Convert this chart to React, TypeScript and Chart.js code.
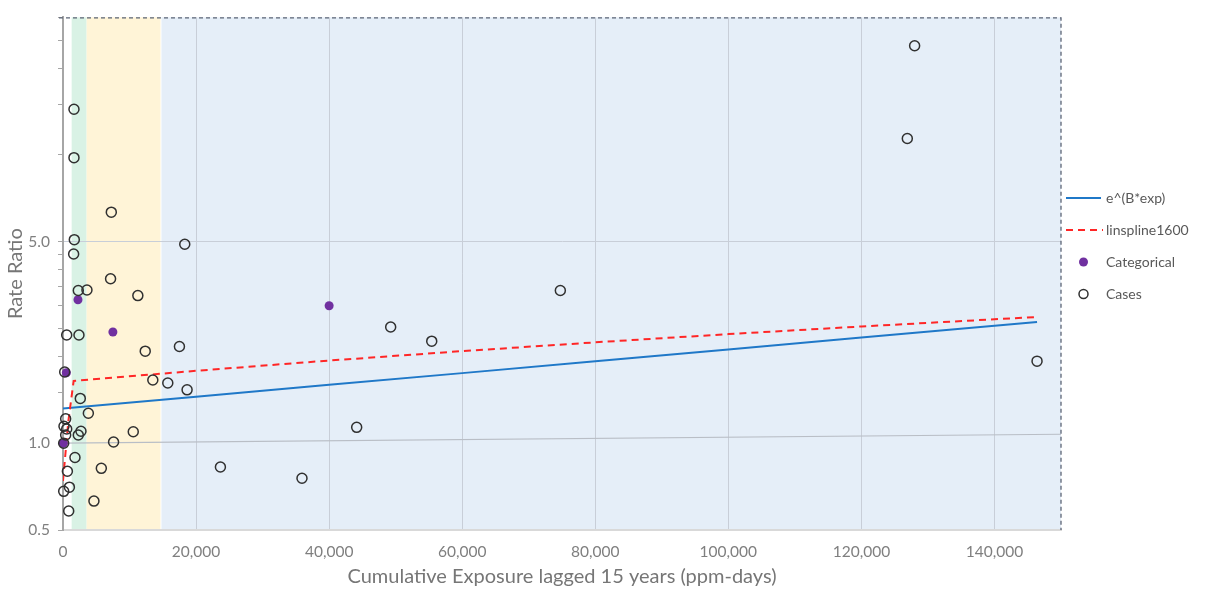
import React, { useEffect, useRef } from 'react';
import { Chart, registerables } from 'chart.js';

Chart.register(...registerables);

// ---------- data ----------
const casesX = [128000, 126900, 1650, 1650, 7260, 1700, 1600, 18300, 7150, 2300, 3600, 11250, 555, 2400, 12360, 17500, 255, 13500, 15750, 18650, 2600, 3810, 400, 150, 555, 400, 2700, 2300, 7600, 10560, 100, 1800, 660, 5760, 105, 960, 4650, 860, 23660, 35920, 44140, 49250, 55420, 74750, 146400];
const casesY = [23.9, 11.4, 14.4, 9.78, 6.33, 5.08, 4.53, 4.9, 3.72, 3.385, 3.4, 3.25, 2.373, 2.373, 2.086, 2.165, 1.766, 1.657, 1.618, 1.531, 1.43, 1.27, 1.215, 1.144, 1.12, 1.068, 1.1, 1.068, 1.01, 1.096, 1.0, 0.892, 0.799, 0.818, 0.681, 0.704, 0.63, 0.582, 0.827, 0.756, 1.135, 2.53, 2.259, 3.385, 1.926];

const categoricalX = [50, 500, 2250, 7500, 40000];
const categoricalY = [1.0, 1.755, 3.143, 2.431, 2.997];

const expLineX = [0, 20000, 40000, 60000, 80000, 100000, 120000, 146400];
const expLineY = [1.319, 1.45, 1.595, 1.75, 1.925, 2.115, 2.325, 2.63];

const splineX = [0, 800, 1600, 20000, 40000, 60000, 80000, 100000, 120000, 146400];
const splineY = [0.74, 1.19, 1.644, 1.783, 1.935, 2.086, 2.238, 2.39, 2.54, 2.74];

const refLineX = [0, 150000];
const refLineY = [1.0, 1.074];

const xTicks = [0, 20000, 40000, 60000, 80000, 100000, 120000, 140000];
const yTicks = [0.5, 1, 1.5, 2, 2.5, 3, 3.5, 4, 4.5, 5, 10, 15, 20, 25, 30];
const yLabelled = [0.5, 1, 5];

const bandStarts = [1300, 3550, 14800];
const bandEnds = [3550, 14650, 150000];

const legendLabels = ['e^(B*exp)', 'linspline1600', 'Categorical', 'Cases'];

const xTitle = 'Cumulative Exposure lagged 15 years (ppm-days)';
const yTitle = 'Rate Ratio';

// ---------- styles ----------
const FONT = 'Lato, "Open Sans", sans-serif';
const bandColors = ['#D9F2E5', '#FFF4D7', '#E5EEF8'];
const gridColor = '#C8CED8';
const tickTextColor = '#7F7F7F';
const blue = '#1F78C8';
const red = '#FF2626';
const purple = '#7030A0';
const caseStroke = '#303030';

const pts = (xs: number[], ys: number[]) => xs.map((x, i) => ({ x, y: ys[i] }));

const bandsPlugin = {
  id: 'bands',
  beforeDraw(chart: any) {
    const { ctx, chartArea, scales } = chart;
    const x = scales.x;
    ctx.save();
    for (let i = 0; i < bandStarts.length; i++) {
      const x0 = x.getPixelForValue(bandStarts[i]);
      const x1 = x.getPixelForValue(bandEnds[i]);
      ctx.fillStyle = bandColors[i];
      ctx.fillRect(x0, chartArea.top, x1 - x0, chartArea.bottom - chartArea.top);
    }
    ctx.restore();
  },
};

const framePlugin = {
  id: 'frame',
  afterDraw(chart: any) {
    const { ctx, chartArea } = chart;
    ctx.save();
    ctx.strokeStyle = '#5B6475';
    ctx.lineWidth = 1.3;
    ctx.setLineDash([4, 3]);
    ctx.beginPath();
    ctx.moveTo(chartArea.left - 4, chartArea.top + 0.5);
    ctx.lineTo(chartArea.right, chartArea.top + 0.5);
    ctx.lineTo(chartArea.right, chartArea.bottom);
    ctx.stroke();
    ctx.restore();
  },
};

const legendPlugin = {
  id: 'customLegend',
  afterDraw(chart: any) {
    const { ctx, chartArea } = chart;
    const x0 = chartArea.right + 5;
    const x1 = x0 + 35;
    const cx = (x0 + x1) / 2;
    const tx = x1 + 5;
    const rows = [198, 230, 262, 294];
    ctx.save();
    ctx.strokeStyle = blue;
    ctx.lineWidth = 2;
    ctx.beginPath();
    ctx.moveTo(x0, rows[0]);
    ctx.lineTo(x1, rows[0]);
    ctx.stroke();
    ctx.strokeStyle = red;
    ctx.setLineDash([7, 5]);
    ctx.beginPath();
    ctx.moveTo(x0, rows[1]);
    ctx.lineTo(x1 + 2, rows[1]);
    ctx.stroke();
    ctx.setLineDash([]);
    ctx.fillStyle = purple;
    ctx.beginPath();
    ctx.arc(cx, rows[2], 4.5, 0, Math.PI * 2);
    ctx.fill();
    ctx.strokeStyle = caseStroke;
    ctx.lineWidth = 1.5;
    ctx.beginPath();
    ctx.arc(cx, rows[3], 4.5, 0, Math.PI * 2);
    ctx.stroke();
    ctx.fillStyle = '#595959';
    ctx.font = '14px ' + FONT;
    ctx.textBaseline = 'middle';
    ctx.textAlign = 'left';
    legendLabels.forEach((t, i) => ctx.fillText(t, tx, rows[i]));
    ctx.restore();
  },
};

export default function App() {
  const canvasRef = useRef<HTMLCanvasElement | null>(null);

  useEffect(() => {
    if (!canvasRef.current) return;
    const chart = new Chart(canvasRef.current, {
      type: 'scatter',
      data: {
        datasets: [
          {
            label: 'ref',
            data: pts(refLineX, refLineY),
            showLine: true,
            borderColor: '#B9BEC6',
            borderWidth: 1.2,
            pointRadius: 0,
            order: 4,
          },
          {
            label: legendLabels[0],
            data: pts(expLineX, expLineY),
            showLine: true,
            borderColor: blue,
            borderWidth: 2,
            pointRadius: 0,
            order: 3,
          },
          {
            label: legendLabels[1],
            data: pts(splineX, splineY),
            showLine: true,
            borderColor: red,
            borderWidth: 2,
            borderDash: [7, 5],
            pointRadius: 0,
            order: 2,
          },
          {
            label: legendLabels[2],
            data: pts(categoricalX, categoricalY),
            pointRadius: 4.5,
            pointBackgroundColor: purple,
            pointBorderColor: purple,
            pointBorderWidth: 0,
            clip: false as any,
            order: 1,
          },
          {
            label: legendLabels[3],
            data: pts(casesX, casesY),
            pointRadius: 5,
            pointBackgroundColor: 'rgba(0,0,0,0)',
            pointBorderColor: caseStroke,
            pointBorderWidth: 1.5,
            clip: false as any,
            order: 0,
          },
        ],
      },
      options: {
        animation: false,
        responsive: true,
        maintainAspectRatio: false,
        layout: { padding: { top: 14, right: 150, left: 0, bottom: 0 } },
        plugins: {
          legend: { display: false },
          tooltip: { enabled: false },
        },
        scales: {
          x: {
            type: 'linear',
            min: 0,
            max: 150000,
            afterBuildTicks: (s: any) => {
              s.ticks = xTicks.map((v) => ({ value: v }));
            },
            afterFit: (s: any) => {
              s.height = 59;
            },
            ticks: {
              autoSkip: false,
              maxRotation: 0,
              padding: 13,
              color: tickTextColor,
              font: { family: FONT, size: 15.5 },
              callback: (v: any) => Number(v).toLocaleString('en-US'),
            },
            grid: { color: gridColor, lineWidth: 1, drawTicks: false },
            border: { color: '#D9D9D9', width: 2 },
            title: {
              display: true,
              text: xTitle,
              color: '#767676',
              font: { family: FONT, size: 20 },
              padding: { top: 0, bottom: 0 },
            },
          },
          y: {
            type: 'logarithmic',
            min: 0.5,
            max: 30,
            afterBuildTicks: (s: any) => {
              s.ticks = yTicks.map((v) => ({ value: v }));
            },
            afterFit: (s: any) => {
              s.width = 63;
            },
            ticks: {
              autoSkip: false,
              padding: 8,
              color: tickTextColor,
              font: { family: FONT, size: 15.5 },
              callback: (v: any) => (yLabelled.includes(Number(v)) ? Number(v).toFixed(1) : ''),
            },
            grid: {
              color: (c: any) => (c.tick && c.tick.value === 5 ? gridColor : 'rgba(0,0,0,0)'),
              tickColor: '#A6A6A6',
              tickLength: 5,
              drawTicks: true,
            },
            border: { color: '#A6A6A6', width: 2 },
            title: {
              display: true,
              text: yTitle,
              color: '#767676',
              font: { family: FONT, size: 20 },
              padding: { top: 4, bottom: 0 },
            },
          },
        },
      },
      plugins: [bandsPlugin, framePlugin, legendPlugin],
    });
    return () => chart.destroy();
  }, []);

  return (
    <div style={{ position: 'fixed', left: 0, top: 0, width: 1211, height: 589, background: '#ffffff' }}>
      <canvas ref={canvasRef} />
    </div>
  );
}
